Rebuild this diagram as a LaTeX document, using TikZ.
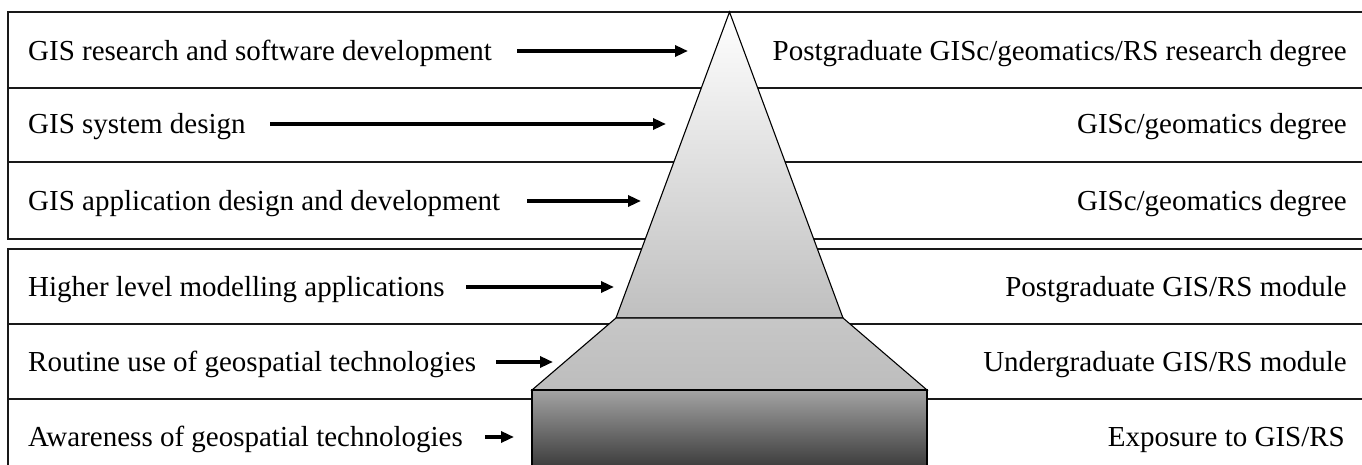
\documentclass[tikz,border=0pt]{standalone}
\usepackage{fontspec}
\setmainfont{Liberation Serif}
\usetikzlibrary{arrows.meta}
\begin{document}
\begin{tikzpicture}[x=1pt,y=1pt,
  rowline/.style={line width=1.6pt,black!90},
  pyr/.style={draw=black,line width=1.1pt,line join=miter},
  lefttext/.style={anchor=base west,inner sep=0pt,font=\fontsize{29}{34}\selectfont},
  righttext/.style={anchor=base east,inner sep=0pt,font=\fontsize{29}{34}\selectfont},
  arr/.style={line width=3.2pt,-{Triangle[length=13pt,width=11pt]}}]
\useasboundingbox (0,0) rectangle (1362,465);
% row frames
\draw[rowline] (1362,453) -- (8,453) -- (8,226) -- (1362,226);
\draw[rowline] (8,377) -- (1362,377);
\draw[rowline] (8,303) -- (1362,303);
\draw[rowline] (1362,216) -- (8,216) -- (8,0);
\draw[rowline] (8,141) -- (1362,141);
\draw[rowline] (8,66) -- (1362,66);
% pyramid
\path[pyr,top color=white,bottom color=black!25] (729.5,453) -- (843,147) -- (616,147) -- cycle;
\path[pyr,top color=black!22,bottom color=black!26] (616,147) -- (843,147) -- (927,75) -- (532,75) -- cycle;
\path[pyr,top color=black!36,bottom color=black!76] (532,75) rectangle (927,-1);
% left texts
\node[lefttext] (l1) at (28,404.5) {GIS research and software development};
\node[lefttext] (l2) at (28,331.5) {GIS system design};
\node[lefttext] (l3) at (28,254.5) {GIS application design and development};
\node[lefttext] (l4) at (28,168.5) {Higher level modelling applications};
\node[lefttext] (l5) at (28,93.5) {Routine use of geospatial technologies};
\node[lefttext] (l6) at (28,18.5) {Awareness of geospatial technologies};
% right texts
\node[righttext] (r1) at (1347,404.5) {Postgraduate GISc/geomatics/RS research degree};
\node[righttext] (r2) at (1347,331.5) {GISc/geomatics degree};
\node[righttext] (r3) at (1347,254.5) {GISc/geomatics degree};
\node[righttext] (r4) at (1347,168.5) {Postgraduate GIS/RS module};
\node[righttext] (r5) at (1347,93.5) {Undergraduate GIS/RS module};
\node[righttext] (r6) at (1345,18.5) {Exposure to GIS/RS};
% arrows
\coordinate (a1s) at (517,414); \coordinate (a1e) at (688,414);
\coordinate (a2s) at (270,341); \coordinate (a2e) at (666,341);
\coordinate (a3s) at (527,264); \coordinate (a3e) at (641,264);
\coordinate (a4s) at (466,178); \coordinate (a4e) at (614,178);
\coordinate (a5s) at (496,103); \coordinate (a5e) at (553,103);
\coordinate (a6s) at (485,28); \coordinate (a6e) at (514,28);
\draw[arr] (a1s) -- (a1e);
\draw[arr] (a2s) -- (a2e);
\draw[arr] (a3s) -- (a3e);
\draw[arr] (a4s) -- (a4e);
\draw[arr] (a5s) -- (a5e);
\draw[arr] (a6s) -- (a6e);
\end{tikzpicture}
\end{document}
